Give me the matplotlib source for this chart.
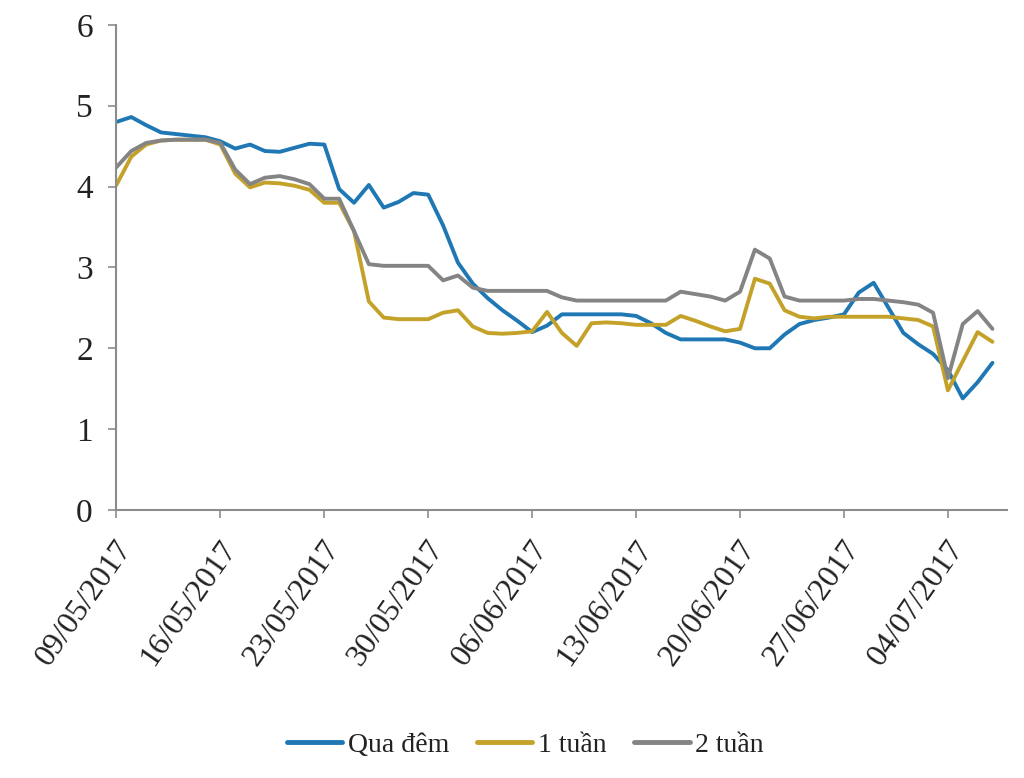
import matplotlib
matplotlib.use("Agg")
import matplotlib.pyplot as plt
import matplotlib.dates as mdates
import matplotlib.transforms as mtransforms
import datetime as dt

start = dt.date(2017, 5, 9)
n_days = 60
dates = [start + dt.timedelta(days=i) for i in range(n_days)]

qua_dem = [4.80, 4.86, 4.76, 4.67, 4.65, 4.63, 4.61, 4.56, 4.47, 4.52,
           4.44, 4.43, 4.48, 4.53, 4.52, 3.97, 3.80, 4.02, 3.74, 3.81,
           3.92, 3.90, 3.52, 3.06, 2.80, 2.62, 2.47, 2.34, 2.20, 2.28,
           2.42, 2.42, 2.42, 2.42, 2.42, 2.40, 2.31, 2.19, 2.11, 2.11,
           2.11, 2.11, 2.07, 2.00, 2.00, 2.17, 2.30, 2.35, 2.38, 2.42,
           2.69, 2.81, 2.50, 2.19, 2.05, 1.93, 1.73, 1.38, 1.58, 1.82]

mot_tuan = [4.02, 4.37, 4.52, 4.57, 4.58, 4.58, 4.58, 4.52, 4.16, 3.99,
            4.05, 4.04, 4.01, 3.96, 3.80, 3.80, 3.45, 2.58, 2.38, 2.36,
            2.36, 2.36, 2.44, 2.47, 2.27, 2.19, 2.18, 2.19, 2.21, 2.45,
            2.19, 2.03, 2.31, 2.32, 2.31, 2.29, 2.29, 2.29, 2.40, 2.34,
            2.27, 2.21, 2.24, 2.86, 2.80, 2.47, 2.39, 2.37, 2.39, 2.39,
            2.39, 2.39, 2.39, 2.37, 2.35, 2.27, 1.48, 1.84, 2.20, 2.08]

hai_tuan = [4.24, 4.44, 4.54, 4.57, 4.58, 4.58, 4.58, 4.54, 4.21, 4.03,
            4.11, 4.13, 4.09, 4.03, 3.85, 3.85, 3.45, 3.04, 3.02, 3.02,
            3.02, 3.02, 2.84, 2.90, 2.75, 2.71, 2.71, 2.71, 2.71, 2.71,
            2.63, 2.59, 2.59, 2.59, 2.59, 2.59, 2.59, 2.59, 2.70, 2.67,
            2.64, 2.59, 2.70, 3.22, 3.11, 2.64, 2.59, 2.59, 2.59, 2.59,
            2.61, 2.61, 2.59, 2.57, 2.54, 2.44, 1.63, 2.30, 2.46, 2.24]

series_names = ["Qua đêm", "1 tuần", "2 tuần"]
colors = ["#1F78B4", "#C4A22A", "#848484"]
y_ticks = [0, 1, 2, 3, 4, 5, 6]
x_tick_dates = [start + dt.timedelta(days=7 * k) for k in range(9)]

plt.rcParams['font.family'] = ['Liberation Serif', 'DejaVu Serif']

fig = plt.figure(figsize=(10.24, 7.78), dpi=100)
ax = fig.add_axes([0.1137, 0.3445, 0.870, 0.6235])

for vals, name, c in zip([qua_dem, mot_tuan, hai_tuan], series_names, colors):
    ax.plot(dates, vals, color=c, lw=2.8, label=name,
            solid_joinstyle='round', solid_capstyle='round')

ax.set_ylim(0, 6)
ax.set_yticks(y_ticks)
ax.set_xlim(start, start + dt.timedelta(days=60))
ax.set_xticks(x_tick_dates)
ax.xaxis.set_major_formatter(mdates.DateFormatter('%d/%m/%Y'))

for s in ['top', 'right']:
    ax.spines[s].set_visible(False)
for s in ['left', 'bottom']:
    ax.spines[s].set_color('#8C8C8C')
    ax.spines[s].set_linewidth(1.5)

ax.tick_params(axis='y', labelsize=24, length=6, width=1.2, color='#8C8C8C',
               direction='out', pad=11, labelcolor='#222222')
ax.tick_params(axis='x', labelsize=23, length=6, width=1.2, color='#8C8C8C',
               direction='out', pad=18, labelcolor='#222222')
offset = mtransforms.ScaledTranslation(10 / 100, 0, fig.dpi_scale_trans)
for lbl in ax.get_xticklabels():
    lbl.set_rotation(55)
    lbl.set_ha('right')
    lbl.set_va('center')
    lbl.set_rotation_mode('anchor')
    lbl.set_transform(lbl.get_transform() + offset)

leg = fig.legend(loc='center', bbox_to_anchor=(0.513, 0.042), ncol=3,
                 frameon=False, fontsize=20, handlelength=2.0,
                 handletextpad=0.2, columnspacing=1.0)
for h in leg.get_lines():
    h.set_linewidth(3.5)
for t in leg.get_texts():
    t.set_color('#222222')

fig.savefig("out.png", dpi=100, facecolor='white')
